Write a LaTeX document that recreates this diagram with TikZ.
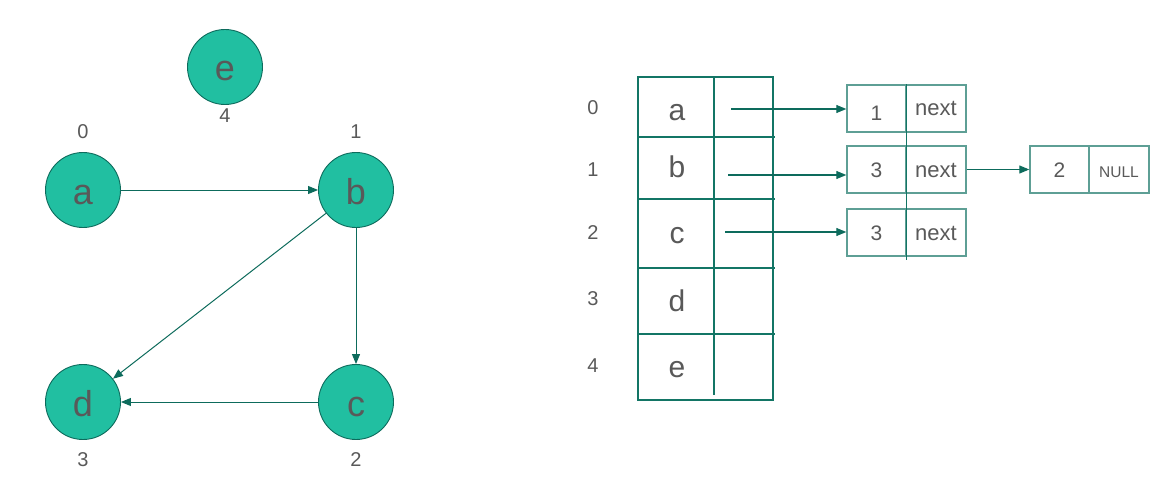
\documentclass[tikz,border=0pt]{standalone}
\usepackage{fontspec}
\setmainfont{Liberation Sans}
\usetikzlibrary{arrows.meta}
\definecolor{vfill}{HTML}{21BFA1}
\definecolor{vline}{HTML}{0D6B5C}
\definecolor{tline}{HTML}{137565}
\definecolor{bline}{HTML}{5E9F95}
\definecolor{txt}{HTML}{595959}
\tikzset{
  vert/.style={circle, draw=vline, line width=0.9pt, fill=vfill, minimum size=75pt, inner sep=0pt,
    text=txt, font=\fontsize{36}{40}\selectfont, text height=28pt, text depth=0pt},
  idx/.style={text=txt, font=\fontsize{20}{22}\selectfont, inner sep=0pt},
  edge/.style={draw=vline, line width=1pt, -{Triangle[length=10pt,width=8pt]}},
  tab/.style={draw=tline, line width=1.4pt},
  cellt/.style={text=txt, font=\fontsize{30}{34}\selectfont, inner sep=0pt, anchor=base},
  lbox/.style={rectangle, draw=bline, line width=1.4pt, minimum height=47pt, inner sep=0pt, text=txt,
    text height=15pt, text depth=0pt},
  valbox/.style={lbox, minimum width=59pt, font=\fontsize{21}{24}\selectfont},
  nextbox/.style={lbox, minimum width=60pt, font=\fontsize{22}{24}\selectfont},
  nullbox/.style={lbox, minimum width=60pt, font=\fontsize{15.5}{18}\selectfont},
  ptr/.style={draw=vline, line width=1.1pt, -{Triangle[length=10pt,width=8pt]}},
}
\begin{document}
\begin{tikzpicture}[x=1pt,y=-1pt]
\useasboundingbox (0,0) rectangle (1158,484);
% graph
\node[vert] (e) at (225,67) {e};
\node[vert] (a) at (83,190) {a};
\node[vert] (b) at (356,190) {b};
\node[vert] (d) at (83,402) {d};
\node[vert] (c) at (356,402) {c};
\node[idx] (le) at (225,116) {4};
\node[idx] (la) at (83,132) {0};
\node[idx] (lb) at (356,132) {1};
\node[idx] (ld) at (83,460) {3};
\node[idx] (lc) at (356,460) {2};
\draw[edge] (a) -- (b);
\draw[edge] (b) -- (c);
\draw[edge] (b) -- (d);
\draw[edge] (c) -- (d);
% table
\draw[tab] (638,77) rectangle (773,400);
\draw[tab] (714,77) -- (714,395);
\foreach \y in {137,199,268,334} \draw[tab] (638,\y) -- (775,\y);
\node[cellt] (ta) at (677,121) {a};
\node[cellt] (tb) at (677,177) {b};
\node[cellt] (tc) at (677,243) {c};
\node[cellt] (td) at (677,311) {d};
\node[cellt] (te) at (677,377) {e};
\node[idx] (i0) at (593,108) {0};
\node[idx] (i1) at (593,170) {1};
\node[idx] (i2) at (593,233) {2};
\node[idx] (i3) at (593,299) {3};
\node[idx] (i4) at (593,366) {4};
% lists
\node[valbox, text height=24pt] (v1) at (876.5,108.5) {1};
\node[nextbox] (n1) at (936,108.5) {next};
\node[valbox] (v2) at (876.5,169.5) {3};
\node[nextbox] (n2) at (936,169.5) {next};
\node[valbox] (v3) at (876.5,232.5) {3};
\node[nextbox] (n3) at (936,232.5) {next};
\node[valbox] (v4) at (1059.5,169.5) {2};
\node[nullbox] (n4) at (1119,169.5) {NULL};
\draw[draw=tline, line width=1.2pt] (v1.north east) -- ([yshift=-3pt]v3.south east);
\coordinate (pa) at (731,109);
\coordinate (pb) at (728,175);
\coordinate (pc) at (725,232);
\draw[ptr] (pa) -- (pa -| v1.west);
\draw[ptr] (pb) -- (pb -| v2.west);
\draw[ptr] (pc) -- (pc -| v3.west);
\draw[ptr] (n2.east) -- (v4.west);
\end{tikzpicture}
\end{document}
